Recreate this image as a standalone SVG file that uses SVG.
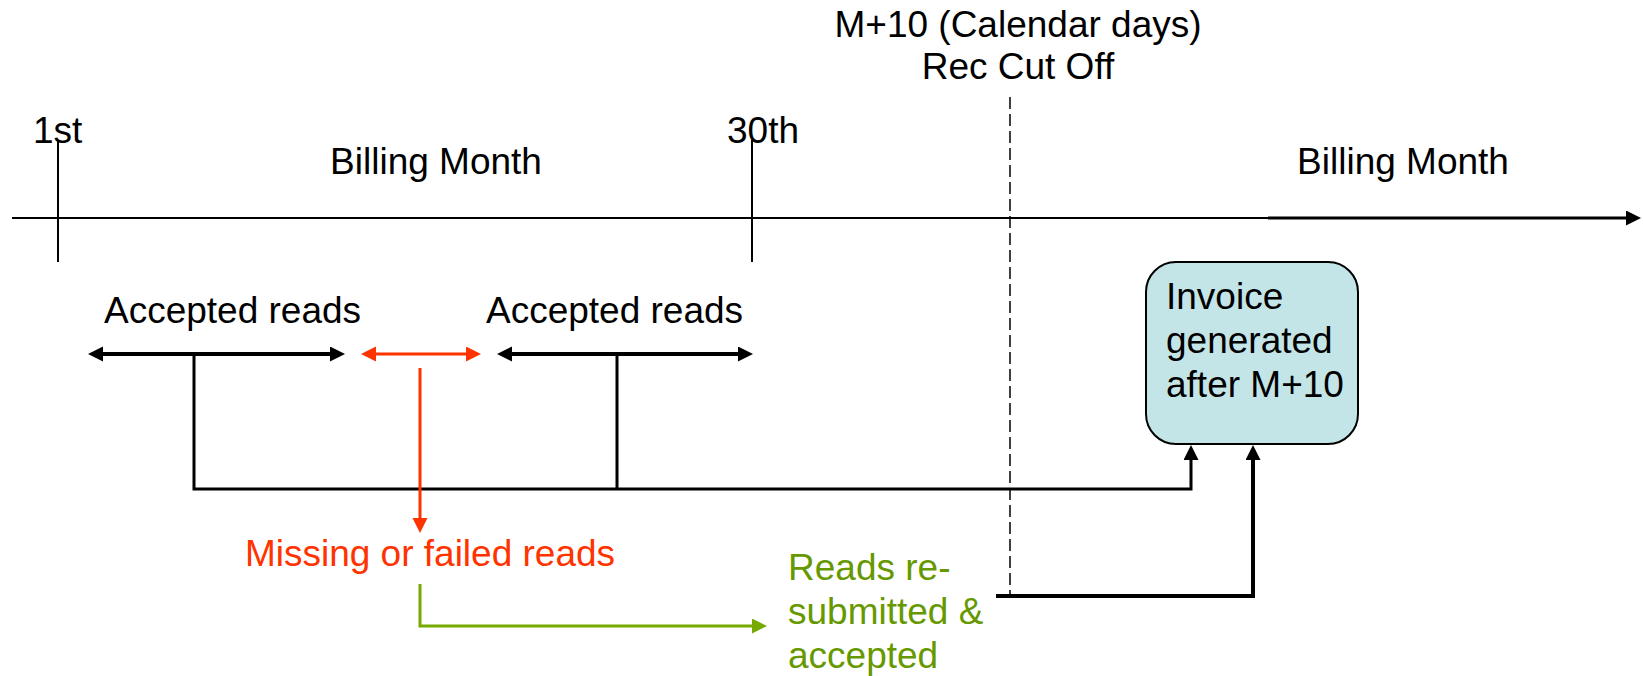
<svg xmlns="http://www.w3.org/2000/svg" width="1643" height="676" viewBox="0 0 1643 676">
<style>
text{font-family:"Liberation Sans",Arial,sans-serif;font-size:37px;fill:#000}
.red{fill:#FF3300}
.green{fill:#669900}
.k{stroke:#000;fill:none}
</style>
<defs>
<marker id="ak" markerUnits="userSpaceOnUse" markerWidth="16" markerHeight="16" refX="5" refY="7.5" orient="auto-start-reverse" viewBox="0 0 16 16"><path d="M0,0 L15,7.5 L0,15 z" fill="#000"/></marker>
<marker id="ar" markerUnits="userSpaceOnUse" markerWidth="16" markerHeight="16" refX="5" refY="7.5" orient="auto-start-reverse" viewBox="0 0 16 16"><path d="M0,0 L15,7.5 L0,15 z" fill="#FF3300"/></marker>
<marker id="ag" markerUnits="userSpaceOnUse" markerWidth="16" markerHeight="16" refX="5" refY="7.5" orient="auto-start-reverse" viewBox="0 0 16 16"><path d="M0,0 L15,7.5 L0,15 z" fill="#77AA00"/></marker>
</defs>

<g id="timeline">
<line class="k" x1="12" y1="218" x2="1268" y2="218" stroke-width="2"/>
<line class="k" x1="1268" y1="218" x2="1631" y2="218" stroke-width="3" marker-end="url(#ak)"/>
<line class="k" x1="58" y1="140" x2="58" y2="262" stroke-width="2"/>
<line class="k" x1="752" y1="140" x2="752" y2="262" stroke-width="2"/>
<text x="33" y="143">1st</text>
<text x="727" y="143">30th</text>
<text x="436" y="174" text-anchor="middle">Billing Month</text>
<text x="1403" y="174" text-anchor="middle">Billing Month</text>
</g>

<g id="cutoff">
<line class="k" x1="1010" y1="97" x2="1010" y2="594" stroke-width="1.5" stroke-dasharray="12 5"/>
<text x="1018" y="37" text-anchor="middle">M+10 (Calendar days)</text>
<text x="1018" y="79" text-anchor="middle">Rec Cut Off</text>
</g>

<g id="accepted1">
<text x="104" y="323">Accepted reads</text>
<line class="k" x1="98" y1="354" x2="335" y2="354" stroke-width="4" marker-start="url(#ak)" marker-end="url(#ak)"/>
</g>

<g id="missing-range">
<line x1="371" y1="354" x2="471" y2="354" stroke="#FF3300" stroke-width="3" marker-start="url(#ar)" marker-end="url(#ar)"/>
</g>

<g id="accepted2">
<text x="486" y="323">Accepted reads</text>
<line class="k" x1="507" y1="354" x2="743" y2="354" stroke-width="4" marker-start="url(#ak)" marker-end="url(#ak)"/>
</g>

<g id="missing">
<text class="red" x="430" y="566" text-anchor="middle">Missing or failed reads</text>
</g>

<g id="resubmitted">
<text class="green" x="788" y="580">Reads re-</text>
<text class="green" x="788" y="624">submitted &amp;</text>
<text class="green" x="788" y="668">accepted</text>
</g>

<g id="invoice">
<rect x="1146" y="262" width="212" height="182" rx="30" ry="30" fill="#C4E5E7" stroke="#000" stroke-width="2"/>
<text x="1166" y="309">Invoice</text>
<text x="1166" y="353">generated</text>
<text x="1166" y="397">after M+10</text>
</g>

<g id="connectors">
<path class="k" d="M194,354 V489 H1191 V455" stroke-width="3" marker-end="url(#ak)"/>
<line class="k" x1="617" y1="354" x2="617" y2="489" stroke-width="3"/>
<line x1="420" y1="368" x2="420" y2="523" stroke="#FF3300" stroke-width="3" marker-end="url(#ar)"/>
<path d="M420,584 V626 H757" fill="none" stroke="#77AA00" stroke-width="3" marker-end="url(#ag)"/>
<path class="k" d="M996,596 H1253 V455" stroke-width="4" marker-end="url(#ak)"/>
</g>
</svg>
